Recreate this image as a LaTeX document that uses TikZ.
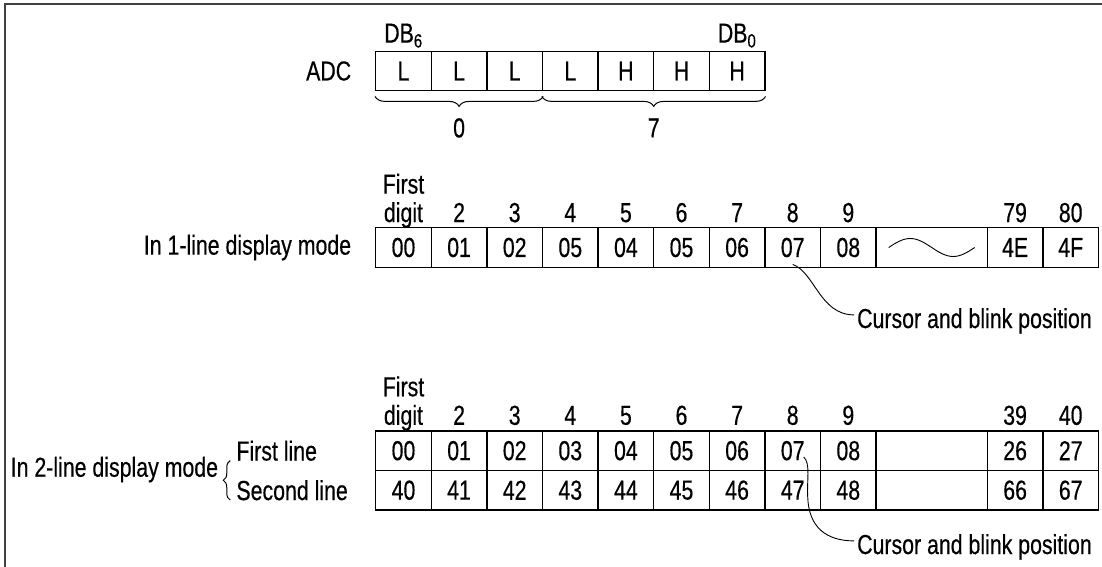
\documentclass[tikz,border=0pt]{standalone}
\usepackage{fontspec}
\setmainfont{Liberation Sans}[FakeStretch=0.775, FakeBold=0.4]
\usetikzlibrary{positioning, decorations.pathreplacing}
\tikzstyle{cell} = [rectangle, minimum width=55.6pt, minimum height=39.5pt, text centered, draw=black, line width=1.3pt]
\tikzstyle{head} = [anchor=base, inner sep=0pt]
\tikzstyle{ubrace} = [decorate, decoration={brace, mirror, amplitude=10pt, raise=5pt}, line width=1pt]
\tikzstyle{lbrace} = [decorate, decoration={brace, amplitude=7pt}, line width=1pt]
\tikzstyle{pointer} = [line width=0.9pt]
\tikzstyle{frame} = [line width=1.8pt, draw=black!75]
\begin{document}
\begin{tikzpicture}[x=1pt, y=-1pt, inner sep=3pt, font=\fontsize{27.5}{28.5}\selectfont]
\useasboundingbox (0,0) rectangle (1102,567);
\draw [frame] (5,567) |- (1102,4);

% ADC bits
\foreach \v [count=\i] in {L,L,L,L,H,H,H}
  \node (bit\i) [cell] at ({403.5+55.6*(\i-1)},71) {\v};
\node (adc) [left=20.7pt of bit1] {ADC};
\node (db6) [head] at ([yshift=8pt]bit1.north) {DB\textsubscript{6}};
\node (db0) [head] at ([yshift=8pt]bit7.north) {DB\textsubscript{0}};
\draw [ubrace] (bit1.south west) -- node (grp0) [head, yshift=-46pt] {0} (bit3.south east);
\draw [ubrace] (bit4.south west) -- node (grp7) [head, yshift=-46pt] {7} (bit7.south east);

% 1-line display mode
\foreach \c/\v in {0/00,1/01,2/02,3/05,4/04,5/05,6/06,7/07,8/08,11/4E,12/4F}
  \node (one\c) [cell] at ({403.5+55.6*\c},247.5) {\v};
\node (oneGap) [cell, minimum width=111.2pt] at (931.7,247.5) {};
\draw [pointer] ([xshift=-43pt]oneGap.center) sin ++(21.5,-9) cos ++(21.5,9) sin ++(21.5,9) cos ++(21.5,-9);
\node (mode1) [left=20.7pt of one0] {In 1-line display mode};
\node (oneHead0) [head, align=center] at ([yshift=5pt]one0.north) {First\\digit};
\foreach \c/\h in {1/2,2/3,3/4,4/5,5/6,6/7,7/8,8/9,11/79,12/80}
  \node (oneHead\c) [head] at ([yshift=5pt]one\c.north) {\h};
\coordinate (blink1) at ([yshift=3.5pt]one7.south);
\node (cur1) [anchor=base west] at (854,328) {Cursor and blink position};
\draw [pointer] (blink1) .. controls +(22,8) and +(-34,0) .. ([yshift=6pt]cur1.west);

% 2-line display mode
\foreach \c/\v/\w in {0/00/40,1/01/41,2/02/42,3/03/43,4/04/44,5/05/45,6/06/46,7/07/47,8/08/48,11/26/66,12/27/67} {
  \node (lineA\c) [cell] at ({403.5+55.6*\c},450.7) {\v};
  \node (lineB\c) [cell] at ({403.5+55.6*\c},490.2) {\w};
}
\node (lineAGap) [cell, minimum width=111.2pt] at (931.7,450.7) {};
\node (lineBGap) [cell, minimum width=111.2pt] at (931.7,490.2) {};
\node (second) [left=24pt of lineB0] {Second line};
\node (first) [anchor=west] at (second.west |- lineA0) {First line};
\draw [lbrace] ([xshift=-3pt]second.base west) -- ([xshift=-3pt]first.base west);
\node (mode2) [anchor=east] at ([xshift=-12pt, yshift=1.5pt]second.west |- lineA0.south) {In 2-line display mode};
\node (twoHead0) [head, align=center] at ([yshift=5.5pt]lineA0.north) {First\\digit};
\foreach \c/\h in {1/2,2/3,3/4,4/5,5/6,6/7,7/8,8/9,11/39,12/40}
  \node (twoHead\c) [head] at ([yshift=5.5pt]lineA\c.north) {\h};
\coordinate (blink2) at ([xshift=11pt, yshift=-6.3pt]lineA7.center);
\node (cur2) [anchor=base west] at (854,554) {Cursor and blink position};
\draw [pointer] (blink2) .. controls +(7,6) and +(-1,-16) .. ++(4,40) .. controls +(1,30) and +(-28,0) .. ([yshift=6pt]cur2.west);
\end{tikzpicture}
\end{document}
